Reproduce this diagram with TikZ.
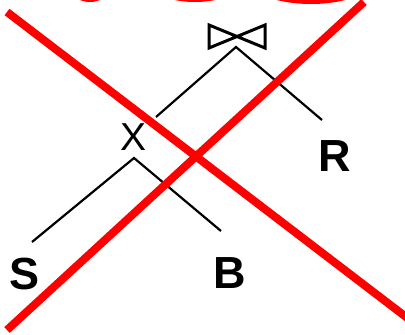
\documentclass[tikz,border=0pt]{standalone}
\usepackage{fontspec}
\setmainfont{Liberation Sans}
\begin{document}
\begin{tikzpicture}[x=1pt,y=-1pt,
  edge/.style={line width=2.2pt,black},
  rel/.style={font=\fontsize{45}{45}\selectfont\bfseries,inner sep=0pt},
  op/.style={font=\fontsize{39}{39}\selectfont,inner sep=0pt},
  cross/.style={line width=8pt,red},
  scribble/.style={line width=4pt,red}]
\useasboundingbox (0,0) rectangle (405,335);
\clip (0,0) rectangle (405,335);

% scribbles along the top edge
\draw[scribble] (90,-40) ellipse [x radius=31, y radius=40];
\draw[scribble] (195,-42) ellipse [x radius=66, y radius=42];
\draw[scribble] (311,-40) ellipse [x radius=80, y radius=42];

% join operator
\coordinate (join) at (236,47);
\draw[edge,line width=3pt,line join=miter] (209,25) -- (265,48) -- (265,25) -- (209,48) -- cycle;

% operands
\node[op] (prod) at (134,137) {X};
\node[rel] (r) at (335,156) {R};
\node[rel] (s) at (25,274) {S};
\node[rel] (b) at (230,273) {B};

% tree edges
\coordinate (prodtop) at (134,158);
\coordinate (jl) at (156,117);
\coordinate (jr) at (322,120);
\coordinate (ps) at (32,242);
\coordinate (pb) at (221,231);
\draw[edge] (jl) -- (join) -- (jr);
\draw[edge] (ps) -- (prodtop) -- (pb);

% crossed out
\coordinate (c1) at (7,12);
\coordinate (c2) at (410,320);
\coordinate (c3) at (364,2);
\coordinate (c4) at (7,330);
\draw[cross] (c1) -- (c2);
\draw[cross] (c3) -- (c4);
\end{tikzpicture}
\end{document}
